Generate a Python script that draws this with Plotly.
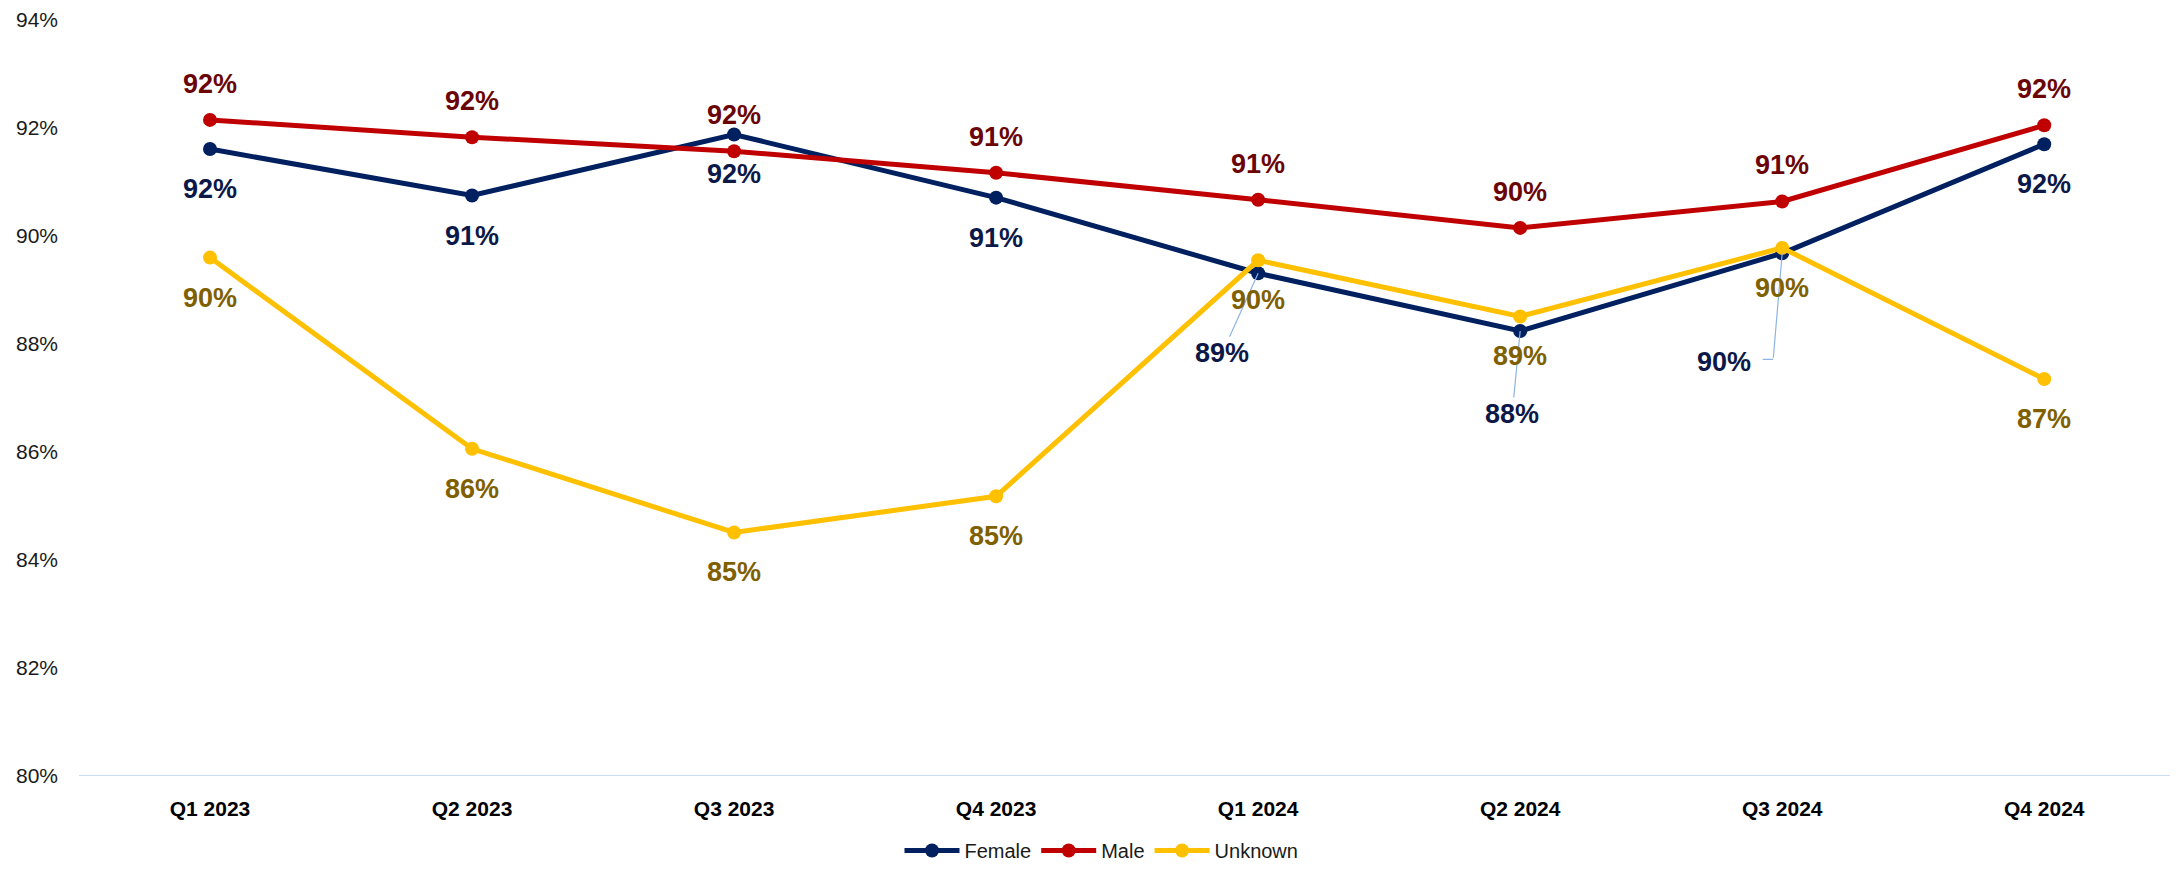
import plotly.graph_objects as go

quarters = ["Q1 2023", "Q2 2023", "Q3 2023", "Q4 2023", "Q1 2024", "Q2 2024", "Q3 2024", "Q4 2024"]
female = [91.61, 90.75, 91.88, 90.71, 89.31, 88.24, 89.68, 91.70]
male = [92.15, 91.83, 91.57, 91.17, 90.67, 90.15, 90.64, 92.05]
unknown = [89.60, 86.06, 84.51, 85.18, 89.55, 88.51, 89.78, 87.35]
y_ticks = [80, 82, 84, 86, 88, 90, 92, 94]

C_FEMALE = "#002060"
C_MALE = "#C00000"
C_UNK = "#FFC000"
L_FEMALE = "#0C1848"
L_MALE = "#6B0505"
L_UNK = "#7F6000"
LEADER = "#8DB4E2"

BOLD = "Arial, 'Liberation Sans', sans-serif"

fig = go.Figure()
for name, vals, col in [("Female", female, C_FEMALE), ("Male", male, C_MALE), ("Unknown", unknown, C_UNK)]:
    fig.add_trace(go.Scatter(
        x=quarters, y=vals, name=name, mode="lines+markers",
        line=dict(color=col, width=5),
        marker=dict(color=col, size=14),
        cliponaxis=False,
    ))

annotations = []
def lab(x, v, color, yshift=0, xshift=0, ax=None, ay=None):
    a = dict(x=x, y=v, xref="x", yref="y", text=f"{round(v):.0f}%",
             font=dict(family=BOLD, size=27, color=color, weight=700))
    if ax is None:
        a.update(showarrow=False, yshift=yshift, xshift=xshift)
    else:
        a.update(showarrow=True, ax=ax, ay=ay, axref="pixel", ayref="pixel",
                 arrowhead=0, arrowwidth=1.2, arrowcolor=LEADER, standoff=0)
    annotations.append(a)

def seg(x, v, ax, ay, xshift=0, yshift=0):
    annotations.append(dict(x=x, y=v, xref="x", yref="y", text="", showarrow=True,
                            ax=ax, ay=ay, axref="pixel", ayref="pixel",
                            xshift=xshift, yshift=yshift,
                            arrowhead=0, arrowwidth=1.2, arrowcolor=LEADER, standoff=0))

for q, v in zip(quarters, male):
    lab(q, v, L_MALE, yshift=36)

female_leaders = {4: (-36, 80), 5: (-8, 83)}
for i, (q, v) in enumerate(zip(quarters, female)):
    if i in female_leaders:
        ax, ay = female_leaders[i]
        lab(q, v, L_FEMALE, ax=ax, ay=ay)
    elif i == 6:
        # elbow leader line
        seg(q, v, -9, 106)
        seg(q, v, -12, 0, xshift=-9, yshift=-106)
        lab(q, v, L_FEMALE, xshift=-58, yshift=-109)
    else:
        lab(q, v, L_FEMALE, yshift=-40)

for q, v in zip(quarters, unknown):
    lab(q, v, L_UNK, yshift=-40)

fig.update_layout(
    width=2162, height=862,
    margin=dict(l=71, r=0, t=10, b=83),
    paper_bgcolor="white", plot_bgcolor="white",
    showlegend=True,
    legend=dict(orientation="h", x=0.489, xanchor="center", y=-0.099, yanchor="middle",
                font=dict(family=BOLD, size=20, color="#1a1a1a"),
                itemwidth=55, traceorder="normal"),
    annotations=annotations,
    xaxis=dict(
        type="category", range=[-0.5, 7.48], showgrid=False, zeroline=False,
        showline=False, ticks="",
        tickfont=dict(family=BOLD, size=21, color="black", weight=700),
        ticklabelstandoff=18,
    ),
    yaxis=dict(
        range=[80, 94], tickvals=y_ticks, ticktext=[f"{t}%" for t in y_ticks],
        showgrid=False, zeroline=False, showline=False, ticks="",
        tickfont=dict(family=BOLD, size=21, color="#1a1a1a"),
        ticklabelstandoff=20, ticklabeloverflow="allow",
    ),
    shapes=[dict(type="line", xref="paper", yref="y", x0=0, x1=1, y0=80, y1=80,
                 line=dict(color="#C9DCF0", width=2), layer="below")],
)

fig.write_html("out.html")
